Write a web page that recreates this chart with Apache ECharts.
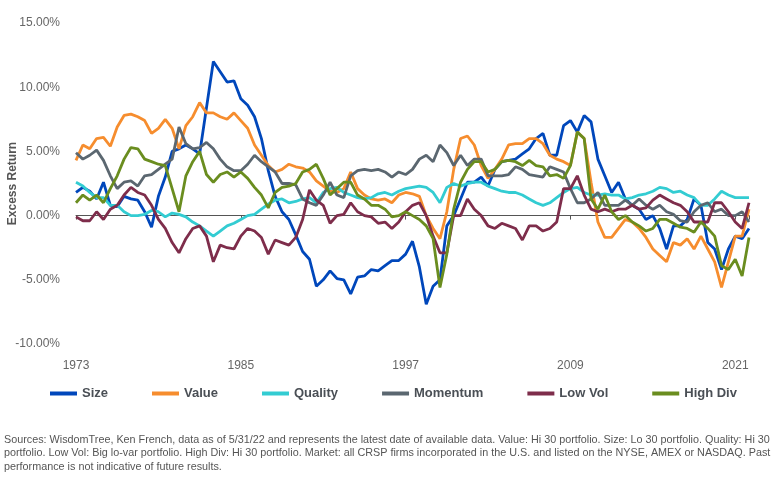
<!doctype html>
<html lang="en">
<head>
<meta charset="UTF-8">
<script src="https://cdn.jsdelivr.net/npm/echarts@6/dist/echarts.min.js"></script>
<style>
  html, body { margin: 0; padding: 0; background: #fff; }
  #main { width: 779px; height: 481px; }
</style>
</head>
<body>
<div id="main"></div>
<script>
// half-year sample points, 1973.0 .. 2022.0
var START = 1973;
var years = [];
for (var i = 0; i <= 98; i++) years.push(START + i / 2);

var xTicks = ['1973', '1985', '1997', '2009', '2021'];

var sizeVals = [
  1.8, 2.2, 1.9, 1.3, 2.6, 0.8, 0.7, 1.5, 1.3, 1.2,
  0.3, -0.9, 1.5, 3.0, 5.0, 5.2, 5.5, 5.2, 4.8, 8.4,
  12.0, 11.2, 10.4, 10.5, 9.1, 8.6, 7.7, 6.0, 3.5, 1.5,
  0.3, -0.3, -1.5, -2.8, -3.4, -5.5, -5.0, -4.3, -4.9, -5.0,
  -6.1, -4.8, -4.7, -4.2, -4.3, -3.9, -3.5, -3.5, -3.0, -2.0,
  -4.0, -6.9, -5.5, -5.0, -0.8, 0.0, 1.3, 2.6, 2.6, 3.0,
  2.3, 3.6, 4.2, 4.3, 4.4, 4.8, 5.2, 6.0, 6.4, 4.7,
  4.7, 7.0, 7.4, 6.5, 7.8, 7.3, 4.4, 3.1, 1.8, 2.6,
  1.3, 0.8, 0.5, -0.3, 0.0, -1.0, -2.6, -0.8, -0.8, -0.3,
  1.3, 0.8, -2.1, -2.6, -4.2, -2.6, -1.6, -1.8, -1.0
];
var valueVals = [
  4.3, 5.5, 5.2, 6.0, 6.1, 5.4, 6.9, 7.8, 7.9, 7.7,
  7.4, 6.4, 6.8, 7.5, 6.8, 5.2, 7.0, 7.7, 8.8, 8.0,
  8.0, 7.7, 7.5, 8.0, 7.4, 6.8, 5.5, 4.7, 3.9, 3.4,
  3.6, 4.0, 3.8, 3.7, 3.4, 2.7, 2.3, 1.9, 1.8, 2.1,
  3.4, 2.1, 1.6, 1.3, 1.2, 1.3, 1.0, 1.6, 1.8, 1.7,
  1.5, 0.0, -1.0, -1.8, 0.3, 3.6, 6.0, 6.2, 5.5, 3.9,
  2.9, 3.6, 4.4, 5.5, 5.6, 5.6, 6.0, 6.0, 5.6, 4.7,
  4.4, 4.2, 3.9, 6.5, 6.0, 2.6, -0.5, -1.7, -1.7, -1.0,
  -0.3, -0.5, -1.0, -1.7, -2.6, -3.1, -3.6, -2.1, -2.3, -1.8,
  -2.6, -1.6, -2.6, -3.6, -5.6, -3.6, -1.6, -1.6, 0.5
];
var qualityVals = [
  2.6, 2.3, 1.8, 1.4, 1.4, 0.8, 0.8, 0.3, 0.0, 0.0,
  0.1, 0.4, 0.3, -0.1, 0.2, 0.1, -0.1, -0.5, -0.8, -1.2,
  -1.6, -1.2, -0.8, -0.6, -0.3, 0.0, 0.1, 0.5, 0.9, 1.2,
  1.3, 1.0, 1.1, 1.3, 1.4, 1.0, 1.8, 2.1, 2.2, 1.8,
  1.6, 1.4, 1.3, 1.4, 1.7, 1.8, 1.6, 1.9, 2.1, 2.2,
  2.3, 2.2, 1.8, 1.0, 2.2, 2.5, 2.3, 2.5, 2.6, 2.6,
  2.3, 2.1, 1.9, 1.8, 1.8, 1.6, 1.3, 1.0, 0.8, 1.0,
  1.4, 1.8, 2.1, 2.2, 1.8, 1.6, 1.6, 1.7, 1.6, 1.6,
  1.3, 1.4, 1.6, 1.7, 1.9, 2.2, 2.1, 1.8, 1.9, 1.6,
  1.4, 0.8, 0.8, 1.3, 1.9, 1.6, 1.4, 1.4, 1.4
];
var momentumVals = [
  4.9, 4.4, 4.7, 5.1, 4.3, 3.1, 2.1, 2.6, 2.7, 2.3,
  3.1, 3.2, 3.6, 4.0, 4.4, 6.9, 5.6, 5.2, 5.3, 5.7,
  5.2, 4.4, 3.8, 3.5, 3.5, 4.0, 4.7, 4.2, 3.8, 3.4,
  2.5, 2.5, 2.4, 1.3, 1.0, 0.8, 1.6, 2.6, 1.6, 1.4,
  3.1, 3.5, 3.6, 3.5, 3.6, 3.4, 3.0, 3.4, 3.2, 3.6,
  4.4, 4.7, 4.2, 5.5, 4.9, 3.9, 4.7, 3.9, 4.4, 4.4,
  3.1, 3.1, 3.1, 3.2, 3.8, 3.6, 3.2, 3.1, 3.0, 3.8,
  3.6, 3.4, 2.1, 1.0, 1.0, 1.3, 1.8, 0.8, 0.8, 0.8,
  1.2, 0.8, 1.3, 0.8, 0.5, 0.8, 0.3, 0.1, -0.4, -0.5,
  0.3, 0.8, 1.0, 0.3, 0.5, 0.0, 0.0, 0.3, -0.5
];
var lowVolVals = [
  -0.1, -0.4, -0.4, 0.3, -0.3, 0.5, 0.8, 1.6, 2.2, 1.8,
  1.6, 0.8, -0.3, -1.0, -2.1, -2.9, -1.8, -1.0, -0.8, -1.6,
  -3.6, -2.3, -2.5, -2.6, -1.6, -1.0, -1.2, -1.7, -3.0, -1.9,
  -2.1, -2.3, -1.7, -0.3, 2.0, 1.2, 0.8, -0.6, 0.0, 0.1,
  1.0, 0.3, 0.0, -0.1, -0.6, -0.5, -1.0, -0.5, 0.3, 0.8,
  1.0, 0.0, -1.6, -2.9, -2.9, 0.0, 0.0, 1.3, 0.5, 0.0,
  -0.8, -1.0, -0.6, -0.8, -1.0, -1.9, -0.8, -0.8, -1.2, -1.0,
  -0.5, 2.1, 2.1, 3.1, 1.6, 0.5, 0.3, 0.5, 0.3, 0.5,
  0.5, 0.8, 0.5, 0.6, 1.2, 1.6, 1.3, 1.0, 0.8, 0.3,
  -0.5, -0.5, -0.5, 1.0, 1.0, 0.3, -0.5, -1.0, 1.0
];
var highDivVals = [
  1.0, 1.6, 1.2, 1.6, 1.0, 2.1, 3.1, 4.4, 5.3, 5.2,
  4.4, 4.2, 4.0, 3.9, 2.1, 0.3, 3.1, 4.2, 5.0, 3.2,
  2.6, 3.2, 3.4, 3.0, 3.4, 2.9, 2.2, 1.6, 0.6, 1.8,
  2.2, 2.3, 2.5, 3.4, 3.6, 4.0, 2.9, 1.6, 2.1, 2.6,
  2.6, 1.6, 1.3, 0.8, 0.8, 0.5, -0.1, 0.0, 0.3, 0.0,
  -0.3, -0.8, -1.8, -5.6, -3.0, 0.5, 2.6, 3.6, 4.2, 4.2,
  3.4, 3.6, 4.2, 4.3, 4.2, 3.9, 4.3, 3.9, 3.8, 3.1,
  3.2, 2.9, 3.9, 6.5, 6.0, 1.3, 0.5, 1.6, 0.3, -0.3,
  0.0, -0.5, -0.8, -1.2, -1.0, -0.3, -0.3, -0.6, -0.9, -1.0,
  -1.3, -0.5, -1.0, -1.6, -3.9, -4.2, -3.4, -4.7, -1.7
];

var seriesNames = ['Size', 'Value', 'Quality', 'Momentum', 'Low Vol', 'High Div'];
var seriesVals = [sizeVals, valueVals, qualityVals, momentumVals, lowVolVals, highDivVals];
var colors = ['#0047bb', '#f68d2e', '#33ccd2', '#5b6770', '#7e2d4b', '#6a8d1f'];

var footnote = [
  'Sources: WisdomTree, Ken French, data as of 5/31/22 and represents the latest date of available data. Value: Hi 30 portfolio. Size: Lo 30 portfolio. Quality: Hi 30',
  'portfolio. Low Vol: Big lo-var portfolio. High Div: Hi 30 portfolio. Market: all CRSP firms incorporated in the U.S. and listed on the NYSE, AMEX or NASDAQ. Past',
  'performance is not indicative of future results.'
];

var myChart = echarts.init(document.getElementById('main'));

var series = seriesNames.map(function (name, k) {
  return {
    name: name,
    type: 'line',
    xAxisIndex: 0,
    showSymbol: false,
    symbol: 'none',
    lineStyle: { width: 2.8, color: colors[k] },
    itemStyle: { color: colors[k] },
    data: years.map(function (y, i) { return [y - START, seriesVals[k][i]]; })
  };
});

var xCommon = {
  type: 'value',
  min: 0,
  max: years[years.length - 1] - START,
  interval: 12,
  splitLine: { show: false }
};

var option = {
  animation: false,
  color: colors,
  grid: { left: 76, right: 30, top: 23, bottom: 137, containLabel: false, outerBoundsMode: 'none' },
  legend: {
    data: seriesNames,
    left: 45,
    top: 382,
    icon: 'rect',
    itemWidth: 27,
    itemHeight: 4,
    itemGap: 44,
    textStyle: { fontFamily: 'Liberation Sans', fontWeight: 'bold', fontSize: 13, color: '#4a4f55' }
  },
  xAxis: [
    // zero line with small ticks
    Object.assign({}, xCommon, {
      position: 'bottom',
      axisLine: { show: true, onZero: true, lineStyle: { color: '#555', width: 1 } },
      axisTick: { show: true, length: 4, lineStyle: { color: '#555' } },
      axisLabel: { show: false }
    }),
    // year labels at the bottom
    Object.assign({}, xCommon, {
      position: 'bottom',
      axisLine: { show: false, onZero: false },
      axisTick: { show: false },
      axisLabel: {
        showMaxLabel: false,
        margin: 16,
        color: '#666',
        fontFamily: 'Liberation Sans',
        fontSize: 12,
        formatter: function (v) {
          var idx = Math.round(v / 12);
          return (v % 12 === 0 && xTicks[idx]) ? xTicks[idx] : '';
        }
      }
    })
  ],
  yAxis: {
    type: 'value',
    min: -10,
    max: 15,
    interval: 5,
    name: 'Excess Return',
    nameLocation: 'middle',
    nameGap: 57,
    nameMoveOverlap: false,
    nameTextStyle: { fontFamily: 'Liberation Sans', fontWeight: 'bold', fontSize: 12, color: '#555' },
    axisLine: { show: false, onZero: false },
    axisTick: { show: false },
    splitLine: { show: false },
    axisLabel: {
      margin: 16,
      color: '#666',
      fontFamily: 'Liberation Sans',
      fontSize: 12,
      formatter: function (v) { return v.toFixed(2) + '%'; }
    }
  },
  graphic: [{
    type: 'text',
    left: 4,
    top: 433,
    style: {
      text: footnote.join('\n'),
      fontFamily: 'Liberation Sans',
      fontSize: 10.8,
      lineHeight: 13.5,
      fill: '#555'
    }
  }],
  series: series
};

myChart.setOption(option);
</script>
</body>
</html>
